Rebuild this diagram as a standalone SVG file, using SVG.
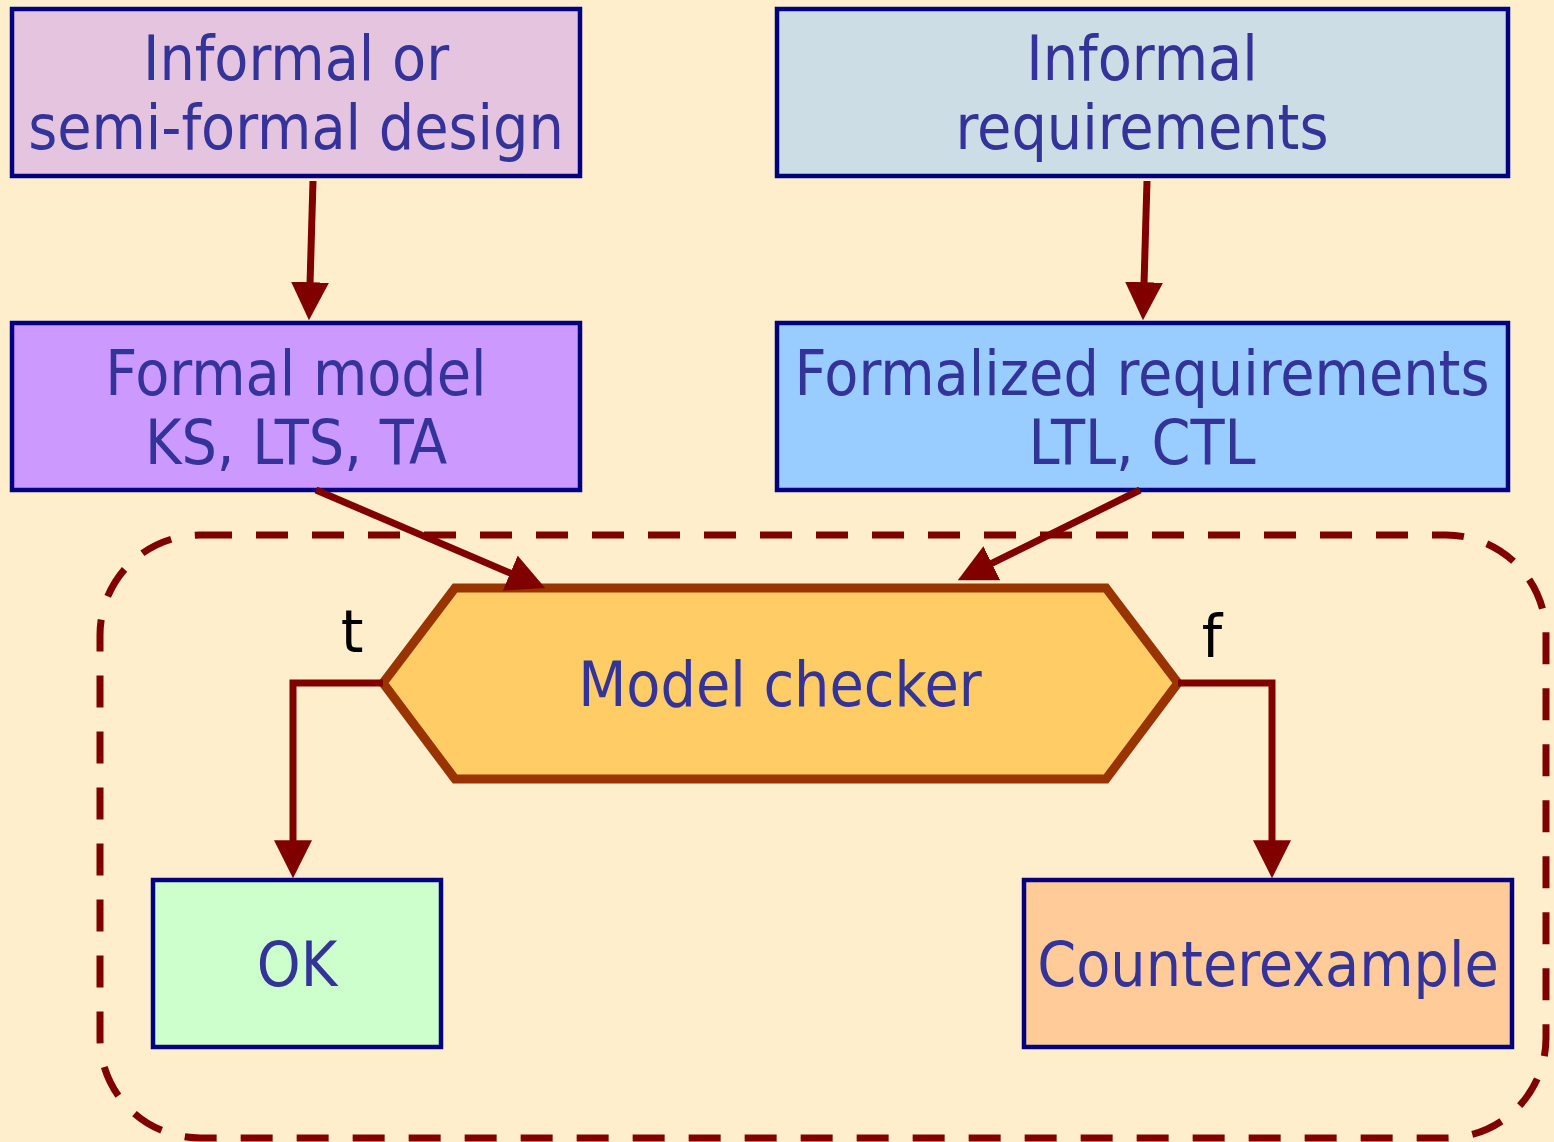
<svg xmlns="http://www.w3.org/2000/svg" width="1554" height="1142" viewBox="0 0 1554 1142">
<defs>
<style>
.box{stroke:#000080;stroke-width:4.5}
.lbl{font-family:"DejaVu Sans Condensed","DejaVu Sans",Verdana,sans-serif;font-stretch:condensed;font-size:62px;fill:#333399;text-anchor:middle}
.tf{font-family:"DejaVu Sans",sans-serif;font-size:58px;fill:#000;text-anchor:middle}
.edge{stroke:#800000;stroke-width:7;fill:none}
</style>
<marker id="ah" viewBox="0 0 10 10" refX="6" refY="5" markerUnits="userSpaceOnUse" markerWidth="38" markerHeight="38" orient="auto">
<path d="M0,0 L10,5 L0,10 z" fill="#800000"/>
</marker>
</defs>
<rect width="1554" height="1142" fill="#ffeecc"/>
<rect x="100" y="535" width="1446" height="603" rx="100" ry="100" fill="none" stroke="#800000" stroke-width="7" stroke-dasharray="32 24"/>
<g id="n1"><rect class="box" x="12" y="9" width="568" height="167" fill="#e5c4e0"/><text class="lbl" x="296" y="80">Informal or</text><text class="lbl" x="296" y="149">semi-formal design</text></g>
<g id="n2"><rect class="box" x="777" y="9" width="731" height="167" fill="#ccdde5"/><text class="lbl" x="1142" y="80">Informal</text><text class="lbl" x="1142" y="149">requirements</text></g>
<g id="n3"><rect class="box" x="12" y="323" width="568" height="167" fill="#cc99ff"/><text class="lbl" x="296" y="395">Formal model</text><text class="lbl" x="296" y="464">KS, LTS, TA</text></g>
<g id="n4"><rect class="box" x="777" y="323" width="731" height="167" fill="#99ccff"/><text class="lbl" x="1142" y="395">Formalized requirements</text><text class="lbl" x="1142" y="464">LTL, CTL</text></g>
<g id="mc"><polygon points="455,588 1106,588 1178,683 1106,779 455,779 383,683" fill="#ffcc66" stroke="#993300" stroke-width="9"/><text class="lbl" x="780" y="706">Model checker</text></g>
<g id="ok"><rect class="box" x="153" y="880" width="288" height="167" fill="#ccffcc"/><text class="lbl" x="297" y="986">OK</text></g>
<g id="ce"><rect class="box" x="1024" y="880" width="488" height="167" fill="#ffcc99"/><text class="lbl" x="1268" y="986">Counterexample</text></g>
<g id="edges">
<path class="edge" d="M313,181 L309.4,305" marker-end="url(#ah)"/>
<path class="edge" d="M1147,181 L1143.4,305" marker-end="url(#ah)"/>
<path class="edge" d="M316,490 L531.2,582.1" marker-end="url(#ah)"/>
<path class="edge" d="M1140,490 L971.4,573.4" marker-end="url(#ah)"/>
<path class="edge" d="M383,683 L293,683 L293,863" marker-end="url(#ah)"/>
<path class="edge" d="M1178,683 L1272,683 L1272,863" marker-end="url(#ah)"/>
<text class="tf" x="352" y="652">t</text>
<text class="tf" x="1212" y="657">f</text>
</g>
</svg>
